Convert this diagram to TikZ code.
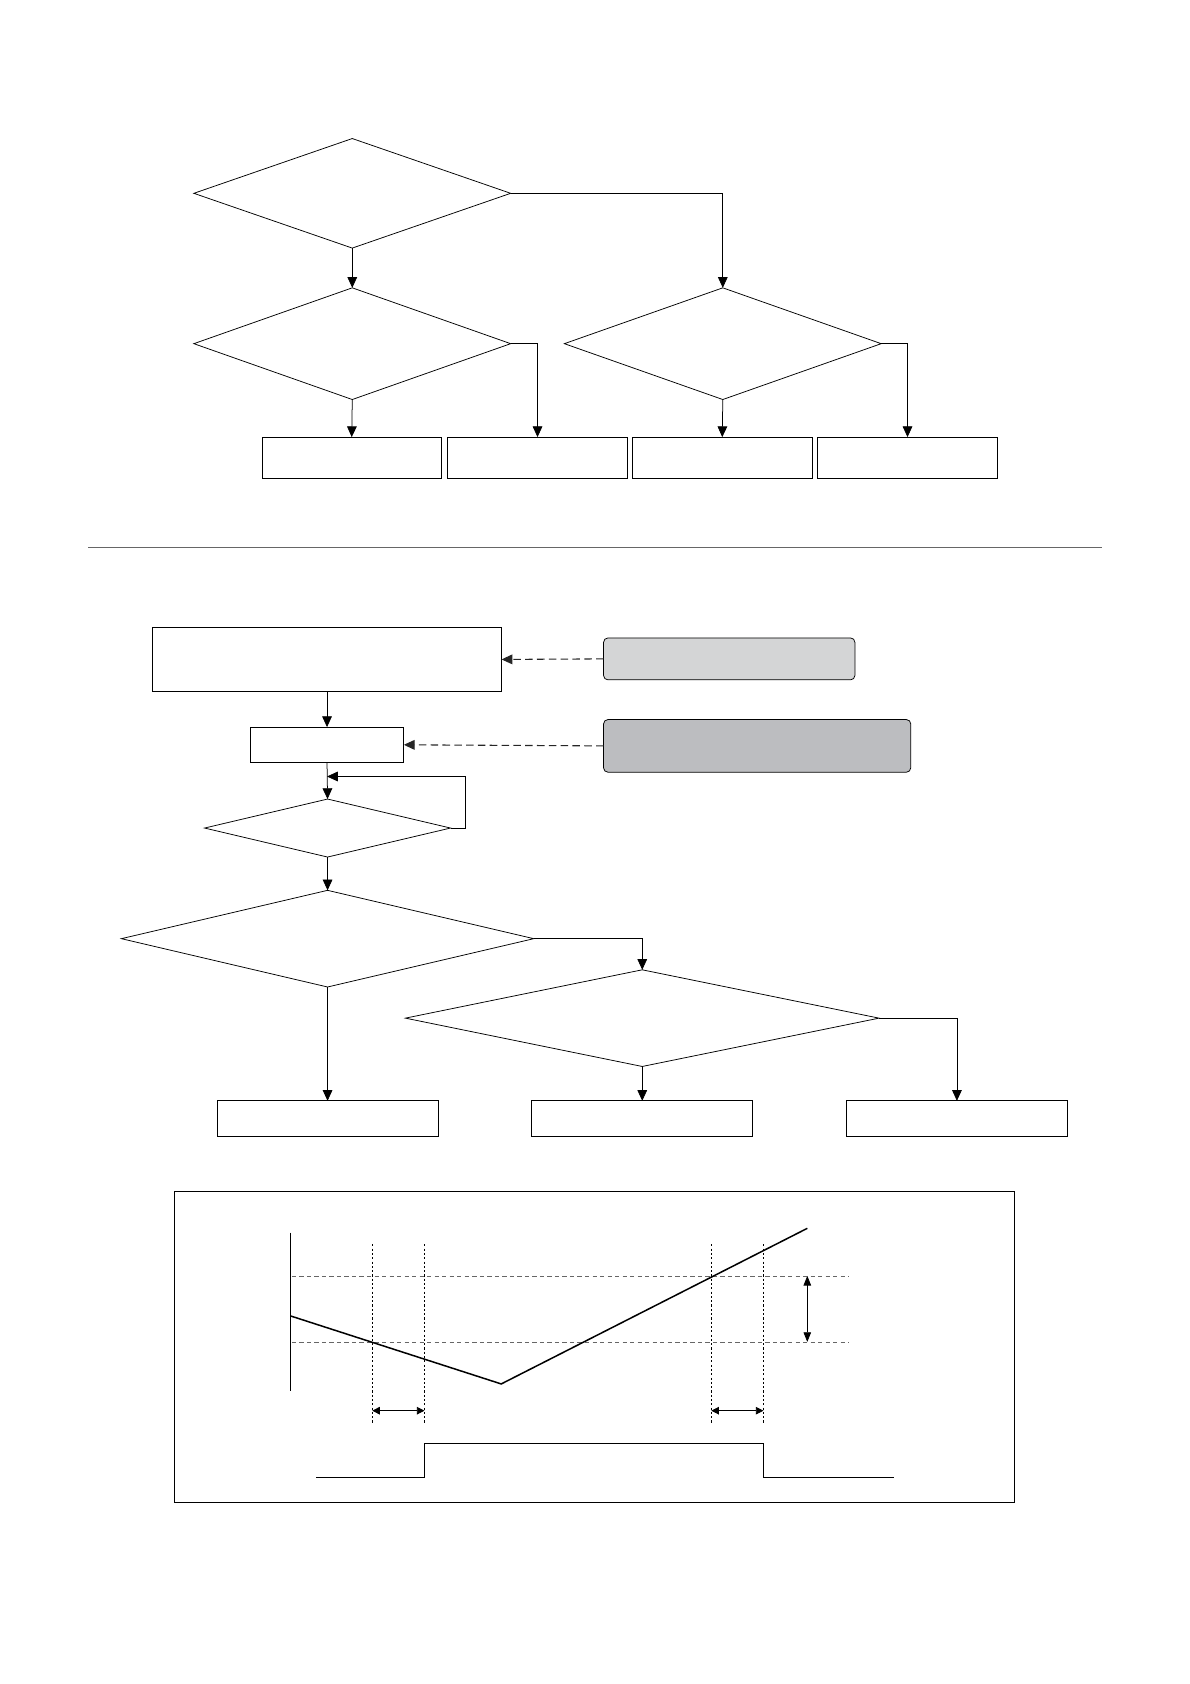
\documentclass[tikz,border=0pt]{standalone}
\usepackage{tikz}
\usetikzlibrary{arrows.meta,calc,shapes.geometric}
\usetikzlibrary{positioning}

\definecolor{lightbox}{HTML}{D4D5D6}
\definecolor{darkbox}{HTML}{BCBDC0}

\begin{document}
\begin{tikzpicture}[x=1pt,y=-1pt,>={Triangle[length=10pt,width=9pt]},line width=0.7pt,
  dec/.style={draw,diamond,inner sep=0pt,outer sep=0pt},
  res/.style={draw,rectangle,inner sep=0pt,outer sep=0pt},
  note/.style={draw,rectangle,rounded corners=4pt,inner sep=0pt,outer sep=0pt},
  hint/.style={->,line width=1pt,dash pattern=on 7pt off 4pt,draw=black!85}]
\useasboundingbox (0,0) rectangle (1108,1568);
% upper chart
\node[dec,minimum width=295pt,minimum height=102pt] (q1) at (328,180) {};
\node[dec,minimum width=295pt,minimum height=104pt] (q2) at (328,320) {};
\node[dec,minimum width=295pt,minimum height=104pt] (q3) at (673,320) {};
\node[res,minimum width=167pt,minimum height=38pt] (r1) at (327.5,426) {};
\node[res,minimum width=167pt,minimum height=38pt] (r2) at (500.5,426) {};
\node[res,minimum width=167pt,minimum height=38pt] (r3) at (672.5,426) {};
\node[res,minimum width=167pt,minimum height=38pt] (r4) at (845,426) {};
\draw[->] (q1.south) -- (q2.north);
\draw[->] (q1.east) -| (q3.north);
\foreach \x/\y in {q2/r1,q3/r3} \draw[->] (\x.south) -- (\y.north);
\foreach \x/\y in {q2/r2,q3/r4} \draw[->] (\x.east) -| (\y.north);
\draw[black!60,line width=0.5pt] (82,510) -- (1026,510);
% lower chart
\node[res,minimum width=325pt,minimum height=60pt] (s1) at (304.5,614) {};
\node[note,fill=lightbox,minimum width=234pt,minimum height=39pt] (n1) at (679,613.5) {};
\node[res,minimum width=143pt,minimum height=33pt] (s2) at (304.5,693.5) {};
\node[note,fill=darkbox,minimum width=286pt,minimum height=49pt] (n2) at (705,694.5) {};
\node[dec,minimum width=229pt,minimum height=54pt] (w) at (305,771) {};
\node[dec,minimum width=384pt,minimum height=90pt] (q4) at (305,874) {};
\node[dec,minimum width=441pt,minimum height=90pt] (q5) at (598,948) {};
\node[res,minimum width=206pt,minimum height=33pt] (t1) at (305,1041.5) {};
\node[res,minimum width=206pt,minimum height=33pt] (t2) at (598,1041.5) {};
\node[res,minimum width=206pt,minimum height=33pt] (t3) at (891,1041.5) {};
\coordinate (lp) at (433,723);
\draw[hint] (n1.west) -- (s1.east);
\draw[hint] (n2.west) -- (s2.east);
\foreach \x/\y in {s1/s2,s2/w,w/q4,q4/t1,q5/t2} \draw[->] (\x.south) -- (\y.north);
\draw[->] (w.east) -| (lp) -- (lp -| s2.south);
\draw[->] (q4.east) -| (q5.north);
\draw[->] (q5.east) -| (t3.north);
% timing graph
\draw[line width=0.6pt] (162,1109.5) rectangle (944.5,1399);
\draw[line width=0.6pt] (270.6,1147.7) -- (270.6,1295);
\draw[black!60,dashed,dash pattern=on 4pt off 3pt] (271.7,1188) -- (790,1188) (271.7,1250) -- (790,1250);
\foreach \x in {346.6,395.2,662.3,710.8}
  \draw[line width=0.4pt,dash pattern=on 2pt off 2pt] (\x,1158.6) -- (\x,1324.7);
\draw[line width=1.4pt] (270.6,1225.3) -- (466.7,1288.6) -- (751.7,1143.7);
\draw[{Triangle[length=7pt,width=7pt]}-{Triangle[length=7pt,width=7pt]}] (346.6,1313.5) -- (395.2,1313.5);
\draw[{Triangle[length=7pt,width=7pt]}-{Triangle[length=7pt,width=7pt]}] (662.3,1313.5) -- (710.8,1313.5);
\draw[{Triangle[length=9pt,width=7pt]}-{Triangle[length=9pt,width=7pt]}] (751.7,1188) -- (751.7,1249.5);
\draw[line width=0.9pt] (294.5,1376) -- (395.2,1376) -- (395.2,1344) -- (710.8,1344) -- (710.8,1376) -- (832.4,1376);
\end{tikzpicture}
\end{document}
